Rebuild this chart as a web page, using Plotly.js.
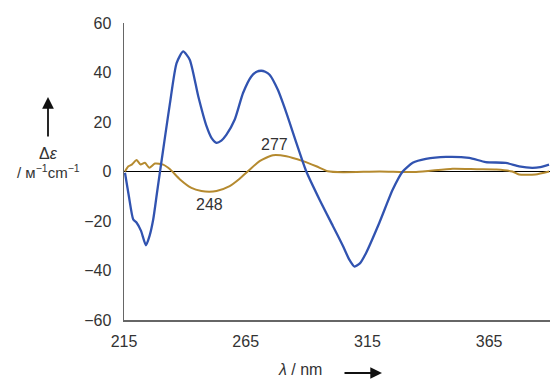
<!DOCTYPE html>
<html>
<head>
<meta charset="utf-8">
<script src="https://cdn.plot.ly/plotly-3.0.1.min.js"></script>
<style>html,body{margin:0;padding:0;background:#fff;}#chart{width:550px;height:380px;}</style>
</head>
<body>
<div id="chart"></div>
<script>
// Wavelengths (nm) and CD values (Δε)
const blueX = [215.4,217,218.8,220.2,222,224,225.5,227,228.5,229.8,232,233.9,236.6,239.3,242,245.5,248.9,251,253,255,257.1,260.5,263.9,267.3,269.5,271.4,273,274.8,278.2,281.7,285.8,289.9,295.3,300.8,304.9,307.5,309.7,312,314.5,319.9,325.4,329.5,333.6,339,347.3,356.8,363.6,371.8,377.3,382.7,386,389.6];
const blueY = [-0.5,-10,-19.4,-20.7,-24,-29.8,-26,-19.4,-9,0,15,27.7,43.8,48.5,45.2,30.4,18.3,13.5,11.6,12.5,14.9,21,31.7,38.4,40.3,40.7,40.3,39.1,33,23.7,11.6,0,-11.3,-22,-30,-35.5,-38.4,-37,-32.8,-20.7,-7.3,0,3.5,5.1,5.9,5.5,3.8,3.5,2.1,1.5,1.8,2.8];
const brownX = [215.4,216.8,218.2,220.2,221.8,223.6,225.4,227.7,231.1,233.9,238,242.7,246.8,250,253,258.4,262.5,265.9,270.7,276.2,281.7,288.5,294,298.7,305,320,335,350,360,368,374.5,377.3,384,389.6];
const brownY = [0,2.1,2.8,4.6,2.8,3.5,1.5,3.2,2.8,0.9,-3.2,-6.6,-7.9,-8.2,-7.9,-5.9,-2.9,0.1,4.2,6.6,6.2,4.2,2.1,0.1,-0.3,0,-0.2,1.1,0.9,0.8,0,-1.2,-1.2,0];
const xTicks = [215,265,315,365];
const yTicks = [-60,-40,-20,0,20,40,60];
const peakLabels = ["277","248"];
const peakLabelX = [277,250];
const peakLabelY = [10.9,-13.3];

const font = "Liberation Sans, Arial, sans-serif";
const traces = [
  {x: brownX, y: brownY, type: 'scatter', mode: 'lines', line: {color: '#b58a2f', width: 2, shape: 'spline', smoothing: 0.6}, hoverinfo: 'skip'},
  {x: blueX, y: blueY, type: 'scatter', mode: 'lines', line: {color: '#3153b0', width: 2.3, shape: 'spline', smoothing: 0.6}, hoverinfo: 'skip'}
];
const annotations = peakLabels.map((t, i) => ({
  x: peakLabelX[i], y: peakLabelY[i], xref: 'x', yref: 'y', text: t, showarrow: false,
  xanchor: 'center', yanchor: 'middle',
  font: {family: font, size: 16, color: '#333'}
}));
const pxX = p => (p - 124) / 426;
const pxY = p => (320 - p) / 297;
annotations.push(
  {x: pxX(48), y: pxY(97), xref: 'paper', yref: 'paper', ax: 0, ay: 41, showarrow: true, arrowhead: 2, arrowsize: 1.3, arrowwidth: 1.8, arrowcolor: '#111', text: ''},
  {x: pxX(48), y: pxY(153), xref: 'paper', yref: 'paper', xanchor: 'center', yanchor: 'middle', text: 'Δ<i>ε</i>', showarrow: false, font: {family: font, size: 16, color: '#333'}},
  {x: pxX(48), y: pxY(171), xref: 'paper', yref: 'paper', xanchor: 'center', yanchor: 'middle', text: '/ ᴍ<sup>−1</sup>cm<sup>−1</sup>', showarrow: false, font: {family: font, size: 15, color: '#333'}},
  {x: pxX(300), y: pxY(370), xref: 'paper', yref: 'paper', xanchor: 'center', yanchor: 'middle', text: '<i>λ</i> / nm', showarrow: false, font: {family: font, size: 16, color: '#333'}},
  {x: pxX(382), y: pxY(373), xref: 'paper', yref: 'paper', ax: -39, ay: 0, showarrow: true, arrowhead: 2, arrowsize: 1.3, arrowwidth: 1.8, arrowcolor: '#111', text: ''}
);
const layout = {
  width: 550, height: 380,
  margin: {l: 124, r: 0, t: 23, b: 60},
  paper_bgcolor: '#fff', plot_bgcolor: '#fff',
  showlegend: false,
  font: {family: font, size: 16, color: '#333'},
  xaxis: {range: [215, 390], tickvals: xTicks, ticktext: xTicks.map(String), showgrid: false, zeroline: false,
          showline: true, linecolor: '#666', linewidth: 1.5, ticks: '', ticklabelstandoff: 6,
          tickfont: {family: font, size: 16, color: '#333'}},
  yaxis: {range: [-60, 60], tickvals: yTicks, showgrid: false, zeroline: true, zerolinecolor: '#000', zerolinewidth: 1,
          showline: true, linecolor: '#666', linewidth: 1.5, ticks: '', ticklabelstandoff: 8,
          tickfont: {family: font, size: 16, color: '#333'}},
  annotations: annotations
};
Plotly.newPlot('chart', traces, layout, {displayModeBar: false, staticPlot: true});
</script>
</body>
</html>
